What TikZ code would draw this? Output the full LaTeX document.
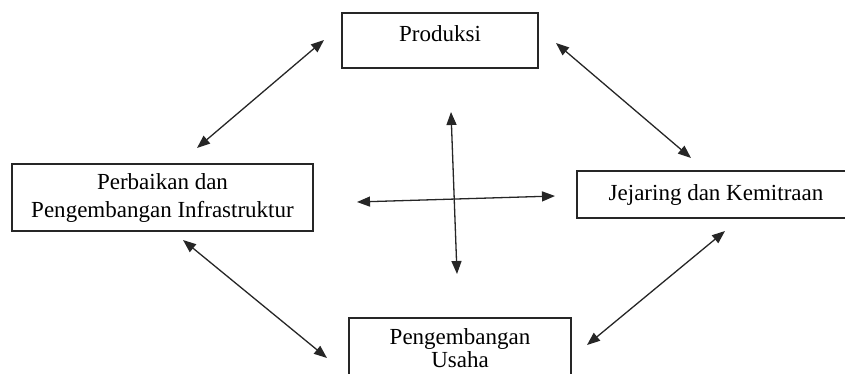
\documentclass[tikz,border=0pt]{standalone}
\usepackage{fontspec}
\setmainfont{Liberation Serif}
\usetikzlibrary{arrows.meta}
\begin{document}
\begin{tikzpicture}[x=1pt,y=-1pt,
  box/.style={draw=black!85, line width=1.4pt, inner sep=0pt, font=\fontsize{23}{28}\selectfont},
  link/.style={draw=black!85, line width=1.3pt, {Triangle[length=13pt,width=10pt]}-{Triangle[length=13pt,width=10pt]}}]
\useasboundingbox (0,0) rectangle (845,373);
\node[box, minimum width=196pt, minimum height=55pt, text depth=14pt] (1) at (440,40.5) {Produksi};
\node[box, align=center, minimum width=301pt, minimum height=67pt] (2) at (162.5,197.5) {Perbaikan dan\\Pengembangan Infrastruktur};
\node[box, minimum width=278pt, minimum height=47pt] (3) at (716,194.5) {Jejaring dan Kemitraan};
\node[box, align=center, minimum width=222pt, minimum height=60pt, font=\fontsize{23}{23}\selectfont] (4) at (460,348) {Pengembangan\\Usaha};
% arrow ends
\coordinate (a1) at (324,40);  \coordinate (a2) at (197,148);
\coordinate (b1) at (556,43);  \coordinate (b2) at (691,158);
\coordinate (c1) at (183,240); \coordinate (c2) at (327,358);
\coordinate (d1) at (725,231); \coordinate (d2) at (587,345);
\coordinate (h1) at (357,202); \coordinate (h2) at (555,196);
\coordinate (v1) at (451,112); \coordinate (v2) at (457,274);
\path[link] (a1) -- (a2);
\path[link] (b1) -- (b2);
\path[link] (c1) -- (c2);
\path[link] (d1) -- (d2);
\path[link] (h1) -- (h2);
\path[link] (v1) -- (v2);
\end{tikzpicture}
\end{document}
